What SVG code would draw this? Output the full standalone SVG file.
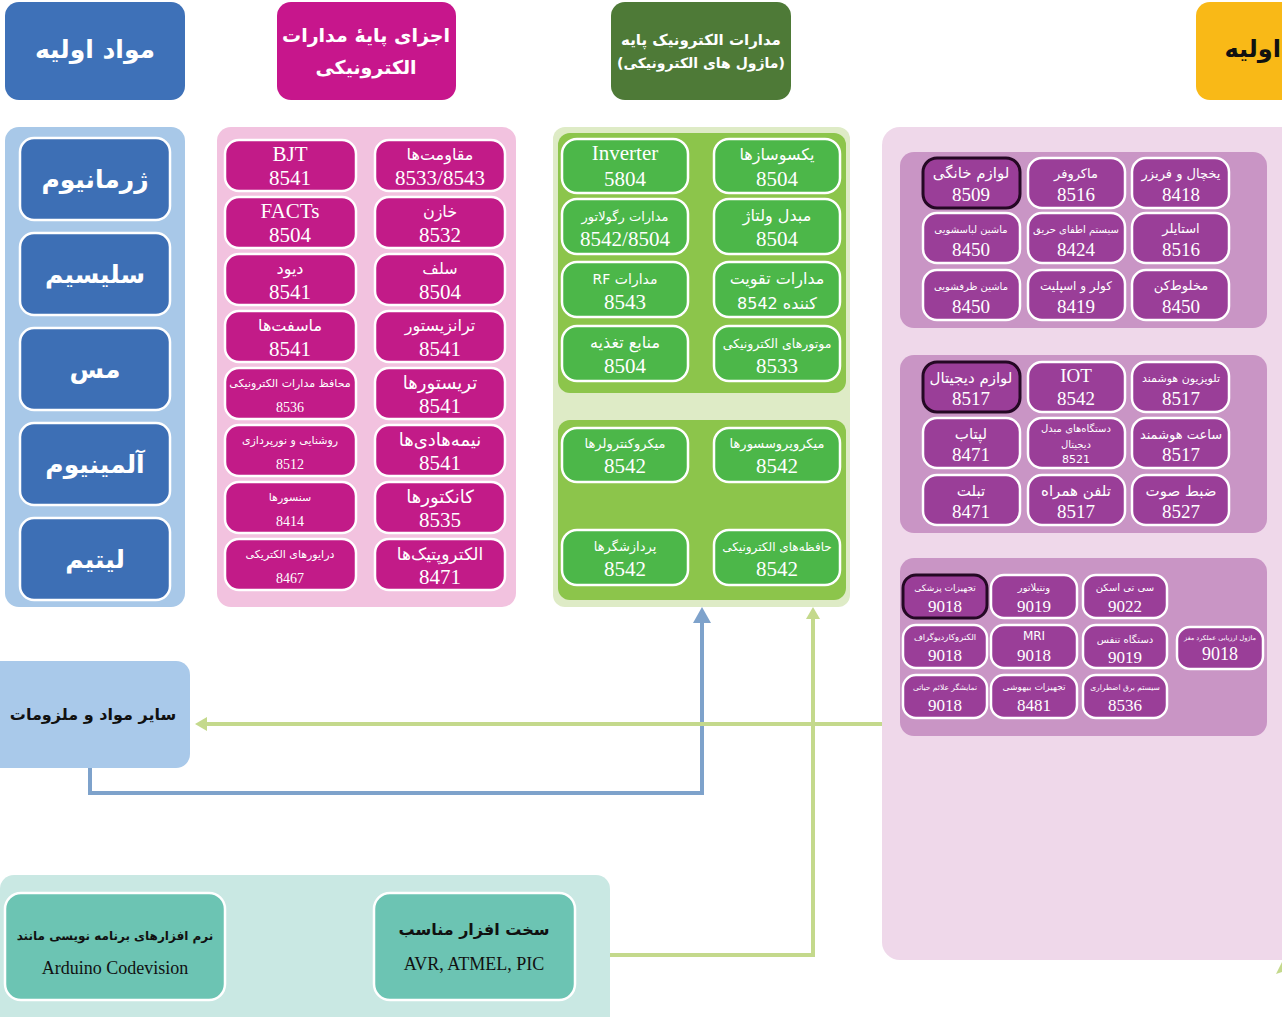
<svg xmlns="http://www.w3.org/2000/svg" width="1282" height="1017" viewBox="0 0 1282 1017">
<style>
text{font-family:"Liberation Serif","DejaVu Sans",serif;text-anchor:middle}
.fa{direction:rtl}
.hd{font-family:"DejaVu Sans",sans-serif;font-weight:bold;fill:#fff}
.el{font-family:"DejaVu Sans",sans-serif;font-weight:bold;fill:#fff;font-size:25px}
.t{font-family:"DejaVu Sans","Liberation Serif",serif;fill:#fff;font-size:16px}
.ts{font-family:"DejaVu Sans","Liberation Serif",serif;fill:#fff;font-size:11px}
.n{fill:#fff;font-size:21px}
.ns{fill:#fff;font-size:14px}
.pt{font-family:"DejaVu Sans","Liberation Serif",serif;fill:#fff;font-size:13px}
.pts{font-family:"DejaVu Sans","Liberation Serif",serif;fill:#fff;font-size:10px}
.pn{fill:#fff;font-size:19px}
.bk{font-family:"DejaVu Sans","Liberation Serif",serif;font-weight:bold;fill:#111}
.blue{fill:#3D6FB5;stroke:#fff;stroke-width:2.5}
.pink{fill:#C21B88;stroke:#fff;stroke-width:2.5}
.grn{fill:#4CB749;stroke:#fff;stroke-width:2.5}
.pur{fill:#9A3E98;stroke:#fff;stroke-width:2.5}
.hl{stroke:#240824;stroke-width:3}
.teal{fill:#6CC4B3;stroke:#fff;stroke-width:2.5}
.cb{fill:none;stroke:#7EA2CB;stroke-width:4}
.cg{fill:none;stroke:#C4D98C;stroke-width:4}
</style>
<defs>
<marker id="ab" markerUnits="userSpaceOnUse" markerWidth="20" markerHeight="18" refX="0" refY="9" orient="auto"><path d="M0,0 L16,9 L0,18 Z" fill="#7EA2CB"/></marker>
<marker id="ag" markerUnits="userSpaceOnUse" markerWidth="16" markerHeight="16" refX="0" refY="7" orient="auto"><path d="M0,0 L12,7 L0,14 Z" fill="#C4D98C"/></marker>
</defs>
<rect width="1282" height="1017" fill="#fff"/>

<!-- backgrounds -->
<rect x="882" y="127" width="420" height="833" rx="18" fill="#EFD8EA"/>
<rect x="5" y="127" width="180" height="480" rx="14" fill="#A8C8E8"/>
<rect x="217" y="127" width="299" height="480" rx="14" fill="#F2C2DF"/>
<rect x="553" y="127" width="297" height="480" rx="12" fill="#DEEBC6"/>
<rect x="558" y="133" width="288" height="260" rx="12" fill="#8CC54B"/>
<rect x="558" y="420" width="288" height="180" rx="12" fill="#8CC54B"/>
<rect x="900" y="152" width="367" height="176" rx="14" fill="#C995C5"/>
<rect x="900" y="355" width="367" height="178" rx="14" fill="#C995C5"/>
<rect x="900" y="558" width="367" height="178" rx="14" fill="#C995C5"/>
<rect x="0" y="875" width="610" height="160" rx="14" fill="#C9E8E3"/>

<!-- connectors -->
<g id="connectors">
<path class="cb" d="M90,768 V793 H702 V623" marker-end="url(#ab)"/>
<path class="cg" d="M882,724 H207" marker-end="url(#ag)"/>
<path class="cg" d="M610,955 H813 V619" marker-end="url(#ag)"/>
<path d="M1282,962 L1276,974 L1282,972 Z" fill="#C4D98C"/>
</g>

<!-- headers -->
<g id="h1"><rect x="5" y="2" width="180" height="98" rx="14" fill="#3E71B8"/><text class="hd fa" x="95" y="58" font-size="25">مواد اولیه</text></g>
<g id="h2"><rect x="277" y="2" width="179" height="98" rx="14" fill="#C7168C"/><text class="hd fa" x="366" y="42" font-size="19">اجزای پایهٔ مدارات</text><text class="hd fa" x="366" y="74" font-size="19">الکترونیکی</text></g>
<g id="h3"><rect x="611" y="2" width="180" height="98" rx="14" fill="#4E7A37"/><text class="hd fa" x="701" y="45" font-size="15">مدارات الکترونیک پایه</text><text class="hd fa" x="701" y="68" font-size="14">(ماژول های الکترونیکی)</text></g>
<g id="h4"><rect x="1196" y="2" width="110" height="98" rx="14" fill="#F9B917"/><text class="bk" x="1281" y="57" font-size="24" style="text-anchor:end">اولیه</text></g>

<!-- left column -->
<g id="e1"><rect class="blue" x="20" y="138" width="150" height="82" rx="14"/><text class="el fa" x="95" y="188">ژرمانیوم</text></g>
<g id="e2"><rect class="blue" x="20" y="233" width="150" height="82" rx="14"/><text class="el fa" x="95" y="283">سلیسیم</text></g>
<g id="e3"><rect class="blue" x="20" y="328" width="150" height="82" rx="14"/><text class="el fa" x="95" y="378">مس</text></g>
<g id="e4"><rect class="blue" x="20" y="423" width="150" height="82" rx="14"/><text class="el fa" x="95" y="473">آلمینیوم</text></g>
<g id="e5"><rect class="blue" x="20" y="518" width="150" height="82" rx="14"/><text class="el fa" x="95" y="568">لیتیم</text></g>

<!-- pink components -->
<g id="p1"><rect class="pink" x="375" y="140" width="130" height="51" rx="14"/><text class="t fa" x="440" y="160">مقاومت‌ها</text><text class="n" x="440" y="185">8533/8543</text></g>
<g id="p2"><rect class="pink" x="375" y="197" width="130" height="51" rx="14"/><text class="t fa" x="440" y="217">خازن</text><text class="n" x="440" y="242">8532</text></g>
<g id="p3"><rect class="pink" x="375" y="254" width="130" height="51" rx="14"/><text class="t fa" x="440" y="274">سلف</text><text class="n" x="440" y="299">8504</text></g>
<g id="p4"><rect class="pink" x="375" y="311" width="130" height="51" rx="14"/><text class="t fa" x="440" y="331">ترانزیستور</text><text class="n" x="440" y="356">8541</text></g>
<g id="p5"><rect class="pink" x="375" y="368" width="130" height="51" rx="14"/><text class="t fa" x="440" y="389" style="font-size:18px">تریستورها</text><text class="n" x="440" y="413">8541</text></g>
<g id="p6"><rect class="pink" x="375" y="425" width="130" height="51" rx="14"/><text class="t fa" x="440" y="446" style="font-size:18px">نیمه‌هادی‌ها</text><text class="n" x="440" y="470">8541</text></g>
<g id="p7"><rect class="pink" x="375" y="482" width="130" height="51" rx="14"/><text class="t fa" x="440" y="503" style="font-size:18px">کانکتورها</text><text class="n" x="440" y="527">8535</text></g>
<g id="p8"><rect class="pink" x="375" y="539" width="130" height="51" rx="14"/><text class="t fa" x="440" y="560" style="font-size:17px">الکتروپتیک‌ها</text><text class="n" x="440" y="584">8471</text></g>

<g id="p9"><rect class="pink" x="225" y="140" width="131" height="51" rx="14"/><text class="n" x="290" y="161">BJT</text><text class="n" x="290" y="185">8541</text></g>
<g id="p10"><rect class="pink" x="225" y="197" width="131" height="51" rx="14"/><text class="n" x="290" y="218">FACTs</text><text class="n" x="290" y="242">8504</text></g>
<g id="p11"><rect class="pink" x="225" y="254" width="131" height="51" rx="14"/><text class="t fa" x="290" y="274">دیود</text><text class="n" x="290" y="299">8541</text></g>
<g id="p12"><rect class="pink" x="225" y="311" width="131" height="51" rx="14"/><text class="t fa" x="290" y="331">ماسفت‌ها</text><text class="n" x="290" y="356">8541</text></g>
<g id="p13"><rect class="pink" x="225" y="368" width="131" height="51" rx="14"/><text class="ts fa" x="290" y="387">محافظ مدارات الکترونیکی</text><text class="ns" x="290" y="412">8536</text></g>
<g id="p14"><rect class="pink" x="225" y="425" width="131" height="51" rx="14"/><text class="ts fa" x="290" y="444">روشنایی و نورپردازی</text><text class="ns" x="290" y="469">8512</text></g>
<g id="p15"><rect class="pink" x="225" y="482" width="131" height="51" rx="14"/><text class="ts fa" x="290" y="501">سنسورها</text><text class="ns" x="290" y="526">8414</text></g>
<g id="p16"><rect class="pink" x="225" y="539" width="131" height="51" rx="14"/><text class="ts fa" x="290" y="558">درایورهای الکتریکی</text><text class="ns" x="290" y="583">8467</text></g>

<!-- green modules -->
<g id="g1"><rect class="grn" x="714" y="139" width="126" height="54" rx="15"/><text class="t fa" x="777" y="160">یکسوسازها</text><text class="n" x="777" y="186">8504</text></g>
<g id="g2"><rect class="grn" x="714" y="199" width="126" height="55" rx="15"/><text class="t fa" x="777" y="221">مبدل ولتاژ</text><text class="n" x="777" y="246">8504</text></g>
<g id="g3"><rect class="grn" x="714" y="262" width="126" height="55" rx="15"/><text class="t fa" x="777" y="284">مدارات تقویت</text><text class="t fa" x="777" y="309">کننده 8542</text></g>
<g id="g4"><rect class="grn" x="714" y="326" width="126" height="55" rx="15"/><text class="ts fa" x="777" y="348" style="font-size:12.5px">موتورهای الکترونیکی</text><text class="n" x="777" y="373">8533</text></g>
<g id="g5"><rect class="grn" x="562" y="139" width="126" height="54" rx="15"/><text class="n" x="625" y="160">Inverter</text><text class="n" x="625" y="186">5804</text></g>
<g id="g6"><rect class="grn" x="562" y="199" width="126" height="55" rx="15"/><text class="ts fa" x="625" y="221" style="font-size:13px">مدارات رگولاتور</text><text class="n" x="625" y="246">8542/8504</text></g>
<g id="g7"><rect class="grn" x="562" y="262" width="126" height="55" rx="15"/><text class="t fa" x="625" y="284" style="font-size:14px">مدارات RF</text><text class="n" x="625" y="309">8543</text></g>
<g id="g8"><rect class="grn" x="562" y="326" width="126" height="55" rx="15"/><text class="t fa" x="625" y="348">منابع تغذیه</text><text class="n" x="625" y="373">8504</text></g>
<g id="g9"><rect class="grn" x="714" y="428" width="126" height="54" rx="15"/><text class="ts fa" x="777" y="448" style="font-size:13px">میکروپروسسورها</text><text class="n" x="777" y="473">8542</text></g>
<g id="g10"><rect class="grn" x="714" y="530" width="126" height="55" rx="15"/><text class="ts fa" x="777" y="551" style="font-size:12px">حافظه‌های الکترونیکی</text><text class="n" x="777" y="576">8542</text></g>
<g id="g11"><rect class="grn" x="562" y="428" width="126" height="54" rx="15"/><text class="ts fa" x="625" y="448" style="font-size:13px">میکروکنترولرها</text><text class="n" x="625" y="473">8542</text></g>
<g id="g12"><rect class="grn" x="562" y="530" width="126" height="55" rx="15"/><text class="ts fa" x="625" y="551" style="font-size:13px">پردازشگرها</text><text class="n" x="625" y="576">8542</text></g>

<!-- purple group 1 -->
<g id="a1"><rect class="pur hl" x="923" y="158" width="97" height="50" rx="14"/><text class="pt fa" x="971" y="178" style="font-size:15px">لوازم خانگی</text><text class="pn" x="971" y="201">8509</text></g>
<g id="a2"><rect class="pur" x="1028" y="158" width="97" height="50" rx="14"/><text class="pt fa" x="1076" y="178">ماکروفر</text><text class="pn" x="1076" y="201">8516</text></g>
<g id="a3"><rect class="pur" x="1132" y="158" width="97" height="50" rx="14"/><text class="pt fa" x="1181" y="178">یخچال و فریزر</text><text class="pn" x="1181" y="201">8418</text></g>
<g id="a4"><rect class="pur" x="923" y="213" width="97" height="50" rx="14"/><text class="pts fa" x="971" y="233">ماشین لباسشویی</text><text class="pn" x="971" y="256">8450</text></g>
<g id="a5"><rect class="pur" x="1028" y="213" width="97" height="50" rx="14"/><text class="pts fa" x="1076" y="233">سیستم اطفای حریق</text><text class="pn" x="1076" y="256">8424</text></g>
<g id="a6"><rect class="pur" x="1132" y="213" width="97" height="50" rx="14"/><text class="pt fa" x="1181" y="233">استایلر</text><text class="pn" x="1181" y="256">8516</text></g>
<g id="a7"><rect class="pur" x="923" y="270" width="97" height="50" rx="14"/><text class="pts fa" x="971" y="290">ماشین ظرفشویی</text><text class="pn" x="971" y="313">8450</text></g>
<g id="a8"><rect class="pur" x="1028" y="270" width="97" height="50" rx="14"/><text class="pt fa" x="1076" y="290" style="font-size:12px">کولر و اسپلیت</text><text class="pn" x="1076" y="313">8419</text></g>
<g id="a9"><rect class="pur" x="1132" y="270" width="97" height="50" rx="14"/><text class="pt fa" x="1181" y="290">مخلوط‌کن</text><text class="pn" x="1181" y="313">8450</text></g>

<!-- purple group 2 -->
<g id="b1"><rect class="pur hl" x="923" y="362" width="97" height="50" rx="14"/><text class="pt fa" x="971" y="383" style="font-size:15px">لوازم دیجیتال</text><text class="pn" x="971" y="405">8517</text></g>
<g id="b2"><rect class="pur" x="1028" y="362" width="97" height="50" rx="14"/><text class="pn" x="1076" y="382">IOT</text><text class="pn" x="1076" y="405">8542</text></g>
<g id="b3"><rect class="pur" x="1132" y="362" width="97" height="50" rx="14"/><text class="pts fa" x="1181" y="382" style="font-size:11px">تلویزیون هوشمند</text><text class="pn" x="1181" y="405">8517</text></g>
<g id="b4"><rect class="pur" x="923" y="418" width="97" height="50" rx="14"/><text class="pt fa" x="971" y="439" style="font-size:15px">لپتاب</text><text class="pn" x="971" y="461">8471</text></g>
<g id="b5"><rect class="pur" x="1028" y="418" width="97" height="50" rx="14"/><text class="pts fa" x="1076" y="432">دستگاه‌های مبدل</text><text class="pts fa" x="1076" y="448">دیجیتال</text><text class="pts" x="1076" y="463" style="font-size:11px">8521</text></g>
<g id="b6"><rect class="pur" x="1132" y="418" width="97" height="50" rx="14"/><text class="pt fa" x="1181" y="439">ساعت هوشمند</text><text class="pn" x="1181" y="461">8517</text></g>
<g id="b7"><rect class="pur" x="923" y="475" width="97" height="50" rx="14"/><text class="pt fa" x="971" y="496" style="font-size:15px">تبلت</text><text class="pn" x="971" y="518">8471</text></g>
<g id="b8"><rect class="pur" x="1028" y="475" width="97" height="50" rx="14"/><text class="pt fa" x="1076" y="496" style="font-size:15px">تلفن همراه</text><text class="pn" x="1076" y="518">8517</text></g>
<g id="b9"><rect class="pur" x="1132" y="475" width="97" height="50" rx="14"/><text class="pt fa" x="1181" y="496" style="font-size:15px">ضبط صوت</text><text class="pn" x="1181" y="518">8527</text></g>

<!-- purple group 3 -->
<g id="c1"><rect class="pur hl" x="903" y="575" width="84" height="43" rx="13"/><text class="pts fa" x="945" y="591" style="font-size:9px">تجهیزات پزشکی</text><text class="pn" x="945" y="612" style="font-size:17px">9018</text></g>
<g id="c2"><rect class="pur" x="991" y="575" width="86" height="43" rx="13"/><text class="pts fa" x="1034" y="591">ونتیلاتور</text><text class="pn" x="1034" y="612" style="font-size:17px">9019</text></g>
<g id="c3"><rect class="pur" x="1083" y="575" width="84" height="43" rx="13"/><text class="pts fa" x="1125" y="591">سی تی اسکن</text><text class="pn" x="1125" y="612" style="font-size:17px">9022</text></g>
<g id="c4"><rect class="pur" x="903" y="625" width="84" height="43" rx="13"/><text class="pts fa" x="945" y="640" style="font-size:8.5px">الکتروکاردیوگراف</text><text class="pn" x="945" y="661" style="font-size:17px">9018</text></g>
<g id="c5"><rect class="pur" x="991" y="625" width="86" height="43" rx="13"/><text class="pts" x="1034" y="640" style="font-size:12px">MRI</text><text class="pn" x="1034" y="661" style="font-size:17px">9018</text></g>
<g id="c6"><rect class="pur" x="1083" y="625" width="84" height="43" rx="13"/><text class="pts fa" x="1125" y="643">دستگاه تنفس</text><text class="pn" x="1125" y="663" style="font-size:17px">9019</text></g>
<g id="c7"><rect class="pur" x="1177" y="627" width="86" height="42" rx="13"/><text class="pts fa" x="1220" y="640" style="font-size:6.5px">ماژول ارزیابی عملکرد مغز</text><text class="pn" x="1220" y="660" style="font-size:18px">9018</text></g>
<g id="c8"><rect class="pur" x="903" y="675" width="84" height="43" rx="13"/><text class="pts fa" x="945" y="690" style="font-size:7.5px">نمایشگر علائم حیاتی</text><text class="pn" x="945" y="711" style="font-size:17px">9018</text></g>
<g id="c9"><rect class="pur" x="991" y="675" width="86" height="43" rx="13"/><text class="pts fa" x="1034" y="690" style="font-size:9px">تجهیزات بیهوشی</text><text class="pn" x="1034" y="711" style="font-size:17px">8481</text></g>
<g id="c10"><rect class="pur" x="1083" y="675" width="84" height="43" rx="13"/><text class="pts fa" x="1125" y="690" style="font-size:7.5px">سیستم برق اضطراری</text><text class="pn" x="1125" y="711" style="font-size:17px">8536</text></g>

<!-- other materials -->
<g id="other"><rect x="-20" y="661" width="210" height="107" rx="14" fill="#A9C9EA"/><text class="bk fa" x="93" y="720" font-size="16">سایر مواد و ملزومات</text></g>

<!-- bottom -->
<g id="sw"><rect class="teal" x="5" y="893" width="220" height="107" rx="16"/><text class="bk fa" x="115" y="940" font-size="12">نرم افزارهای برنامه نویسی مانند</text><text x="115" y="974" font-size="18" fill="#111">Arduino Codevision</text></g>
<g id="hw"><rect class="teal" x="374" y="893" width="201" height="107" rx="16"/><text class="bk fa" x="474" y="935" font-size="16">سخت افزار مناسب</text><text x="474" y="970" font-size="18" fill="#111">AVR, ATMEL, PIC</text></g>
</svg>
